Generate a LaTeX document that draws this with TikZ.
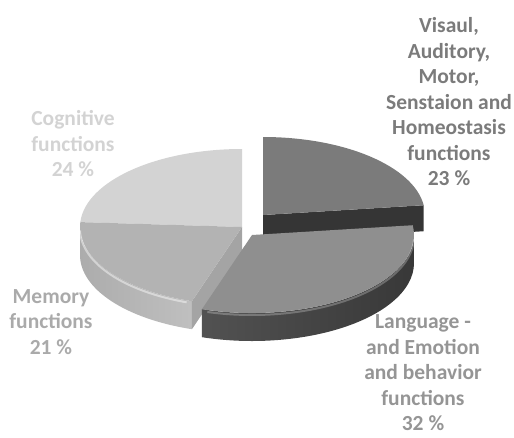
\documentclass[tikz,border=0pt]{standalone}
\usepackage{fontspec}
\setmainfont{Carlito}
\usepackage{tikz}
\usetikzlibrary{calc}
\definecolor{gray200}{HTML}{D3D3D3}
\definecolor{gray300}{HTML}{B3B3B3}
\definecolor{gray350}{HTML}{A4A4A4}
\definecolor{gray400}{HTML}{8F8F8F}
\definecolor{gray500}{HTML}{7B7B7B}
\definecolor{gray800}{HTML}{353535}
\tikzstyle{rotulo}=[align=center, inner sep=0pt, font=\bfseries\fontsize{21.5}{25.5}\selectfont]
\tikzstyle{aresta}=[white, opacity=.45, line width=2pt]

\begin{document}
\begin{tikzpicture}[x=1pt, y=1pt]
			\useasboundingbox (0,0) rectangle (514,-437);
			\coordinate (cc) at (242,-227);
			\coordinate (cv) at (263,-215);
			\coordinate (cl) at (252,-235);
			\fill[gray200] (cc) -- ($(cc)+(90:162pt and 78pt)$) arc[start angle=90, end angle=176.4, x radius=162pt, y radius=78pt] -- cycle;
			\fill[gray800] (cv) -- ($(cv)+(7.2:162pt and 78pt)$) -- ++(0,-26) -- ($(cv)+(0,-26)$) -- cycle;
			\fill[gray500] (cv) -- ($(cv)+(7.2:162pt and 78pt)$) arc[start angle=7.2, end angle=90, x radius=162pt, y radius=78pt] -- cycle;
			\shade[left color=gray!65, right color=gray!50] ($(cc)+(180:162pt and 78pt)$) arc[start angle=180, end angle=252, x radius=162pt, y radius=78pt] -- ++(0,-28) arc[start angle=252, end angle=180, x radius=162pt, y radius=78pt] -- cycle;
			\fill[gray350] (cc) -- ($(cc)+(252:162pt and 78pt)$) -- ++(0,-28) -- ($(cc)+(0,-28)$) -- cycle;
			\fill[gray300] (cc) -- ($(cc)+(176.4:162pt and 78pt)$) arc[start angle=176.4, end angle=252, x radius=162pt, y radius=78pt] -- cycle;
			\draw[aresta] ($(cc)+(181:162pt and 78pt)+(0,-2)$) arc[start angle=181, end angle=250, x radius=162pt, y radius=78pt];
			\shade[left color=black!68, right color=black!78] ($(cl)+(252:162pt and 78pt)$) arc[start angle=252, end angle=360, x radius=162pt, y radius=78pt] -- ++(0,-28) arc[start angle=360, end angle=252, x radius=162pt, y radius=78pt] -- cycle;
			\fill[gray400] (cl) -- ($(cl)+(252:162pt and 78pt)$) arc[start angle=252, end angle=367.2, x radius=162pt, y radius=78pt] -- cycle;
			\draw[aresta, opacity=.25] ($(cl)+(254:162pt and 78pt)+(0,-2)$) arc[start angle=254, end angle=358, x radius=162pt, y radius=78pt];
			\node[rotulo, text=gray500] (visaul) at (449,-102) {Visaul,\\Auditory,\\Motor,\\Senstaion and\\Homeostasis\\functions\\23 \%};
			\node[rotulo, text=gray200] (cognitive) at (73,-144) {Cognitive\\functions\\24 \%};
			\node[rotulo, text=gray!67] (memory) at (51,-322) {Memory\\functions\\21 \%};
			\node[rotulo, text=gray!83] (language) at (423,-373) {Language -\\and Emotion\\and behavior\\functions\\32 \%};
		\end{tikzpicture}
\end{document}
